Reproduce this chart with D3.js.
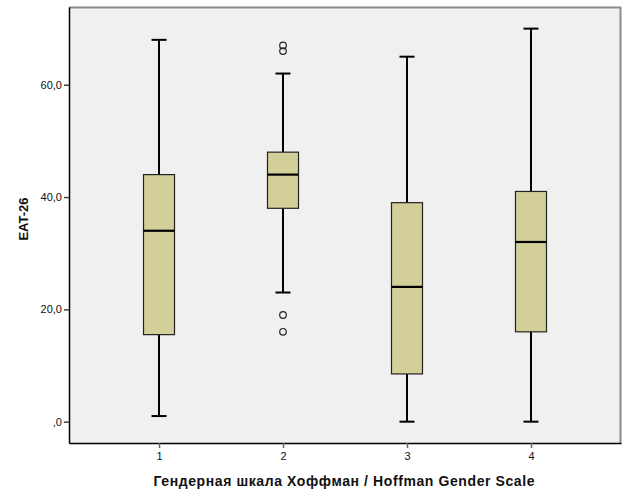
<!DOCTYPE html>
<html>
<head>
<meta charset="utf-8">
<script src="https://cdn.jsdelivr.net/npm/d3@7"></script>
<style>
    body { margin: 0; background: #fff; }
    svg { font-family: "Liberation Sans", Arial, sans-serif; }
</style>
</head>
<body>
<div id="chart"></div>
<script>
const categories = ['1', '2', '3', '4'];
const whiskerLow = [1, 23, 0, 0];
const q1 = [15.5, 38, 8.5, 16];
const medians = [34, 44, 24, 32];
const q3 = [44, 48, 39, 41];
const whiskerHigh = [68, 62, 65, 70];
const outliers = [[], [67, 66, 19, 16], [], []];
const yTicks = [0, 20, 40, 60];

const width = 629;
const height = 504;
const margin = { top: 7, right: 8, bottom: 61, left: 69 };

const boxes = categories.map((c, i) => ({
    cat: c,
    lo: whiskerLow[i],
    q1: q1[i],
    med: medians[i],
    q3: q3[i],
    hi: whiskerHigh[i],
    out: outliers[i]
}));

const svg = d3.select('#chart')
    .append('svg')
    .attr('width', width)
    .attr('height', height);

const x = d3.scalePoint()
    .domain(categories)
    .range([margin.left, width - margin.right])
    .padding(0.726);

const y = d3.scaleLinear()
    .domain([-3.8, 73.85])
    .range([height - margin.bottom, margin.top]);

// plot background
svg.append('rect')
    .attr('x', margin.left)
    .attr('y', margin.top)
    .attr('width', width - margin.left - margin.right)
    .attr('height', height - margin.top - margin.bottom)
    .attr('fill', '#f0f0f0');

// top and right frame lines are grey
svg.append('path')
    .attr('d', `M${margin.left},${margin.top + 0.5}H${width - margin.right - 0.5}V${height - margin.bottom}`)
    .attr('fill', 'none')
    .attr('stroke', '#8a8a8a')
    .attr('stroke-width', 2);

const fmt = d => d === 0 ? ',0' : d3.format('.1f')(d).replace('.', ',');

// y axis
const yAxis = svg.append('g')
    .attr('transform', `translate(${margin.left},0)`)
    .call(d3.axisLeft(y).tickValues(yTicks).tickFormat(fmt).tickSize(5).tickSizeOuter(0).tickPadding(2));
yAxis.select('.domain').attr('stroke', '#000').attr('stroke-width', 1.5);
yAxis.selectAll('.tick line').attr('stroke', '#444').attr('stroke-width', 1.5);
yAxis.selectAll('.tick text').attr('fill', '#111').style('font-size', '11px');

// x axis
const xAxis = svg.append('g')
    .attr('transform', `translate(0,${height - margin.bottom})`)
    .call(d3.axisBottom(x).tickSize(5).tickSizeOuter(0).tickPadding(4));
xAxis.select('.domain').attr('stroke', '#000').attr('stroke-width', 1.5);
xAxis.selectAll('.tick line').attr('stroke', '#666').attr('stroke-width', 1.5);
xAxis.selectAll('.tick text').attr('fill', '#111').style('font-size', '11px');

const boxW = 31;
const capW = 15;

const g = svg.selectAll('.box')
    .data(boxes)
    .join('g')
    .attr('class', 'box');

// whiskers
g.append('line')
    .attr('x1', d => x(d.cat)).attr('x2', d => x(d.cat))
    .attr('y1', d => y(d.hi)).attr('y2', d => y(d.q3))
    .attr('stroke', '#000').attr('stroke-width', 2);
g.append('line')
    .attr('x1', d => x(d.cat)).attr('x2', d => x(d.cat))
    .attr('y1', d => y(d.q1)).attr('y2', d => y(d.lo))
    .attr('stroke', '#000').attr('stroke-width', 2);
g.append('line')
    .attr('x1', d => x(d.cat) - capW / 2).attr('x2', d => x(d.cat) + capW / 2)
    .attr('y1', d => y(d.hi)).attr('y2', d => y(d.hi))
    .attr('stroke', '#000').attr('stroke-width', 2);
g.append('line')
    .attr('x1', d => x(d.cat) - capW / 2).attr('x2', d => x(d.cat) + capW / 2)
    .attr('y1', d => y(d.lo)).attr('y2', d => y(d.lo))
    .attr('stroke', '#000').attr('stroke-width', 2);

// boxes
g.append('rect')
    .attr('x', d => x(d.cat) - boxW / 2)
    .attr('y', d => y(d.q3))
    .attr('width', boxW)
    .attr('height', d => y(d.q1) - y(d.q3))
    .attr('fill', '#d3cf98')
    .attr('stroke', '#222')
    .attr('stroke-width', 1.2);

// medians
g.append('line')
    .attr('x1', d => x(d.cat) - boxW / 2).attr('x2', d => x(d.cat) + boxW / 2)
    .attr('y1', d => y(d.med)).attr('y2', d => y(d.med))
    .attr('stroke', '#000').attr('stroke-width', 2.2);

// outliers
g.selectAll('circle')
    .data(d => d.out.map(v => ({ cat: d.cat, v: v })))
    .join('circle')
    .attr('cx', d => x(d.cat))
    .attr('cy', d => y(d.v))
    .attr('r', 3.3)
    .attr('fill', 'none')
    .attr('stroke', '#222')
    .attr('stroke-width', 1.2);

// axis titles
svg.append('text')
    .attr('transform', 'translate(28,219) rotate(-90)')
    .attr('text-anchor', 'middle')
    .style('font-size', '13px')
    .style('font-weight', 'bold')
    .attr('fill', '#111')
    .text('EAT-26');

svg.append('text')
    .attr('x', 344)
    .attr('y', 486)
    .attr('text-anchor', 'middle')
    .attr('textLength', 381)
    .attr('lengthAdjust', 'spacing')
    .style('font-size', '14px')
    .style('font-weight', 'bold')
    .attr('fill', '#111')
    .text('Гендерная шкала Хоффман / Hoffman Gender Scale');
</script>
</body>
</html>
